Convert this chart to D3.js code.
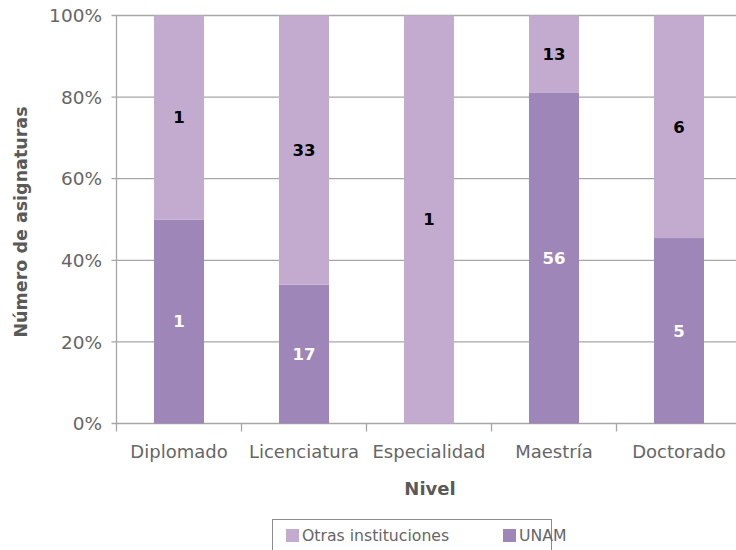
<!DOCTYPE html>
<html><head><meta charset="utf-8">
<script src="https://cdn.jsdelivr.net/npm/d3@7"></script>
<style>body{margin:0;background:#fff;} svg{display:block;font-family:"DejaVu Sans",Verdana,sans-serif;}</style>
</head><body>
<svg id="c" width="736" height="550"></svg>
<script>
const categories = ["Diplomado","Licenciatura","Especialidad","Maestría","Doctorado"];
const unam = [1,17,0,56,5];
const otras = [1,33,1,13,6];
const yTicks = [0,0.2,0.4,0.6,0.8,1];
const seriesNames = ["Otras instituciones","UNAM"];
const colors = {unam:"#9e86b8", otras:"#c3abd0"};

const svg = d3.select("#c");
const x0 = 116.5, x1 = 741.5, yTop = 15.5, yBot = 423.5;
const x = d3.scaleBand().domain(categories).range([x0,x1]).paddingInner(0.6).paddingOuter(0.3);
const y = d3.scaleLinear().domain([0,1]).range([yBot,yTop]);

svg.append("g").selectAll("line").data(yTicks).join("line")
  .attr("x1",x0-5).attr("x2",736).attr("y1",d=>y(d)).attr("y2",d=>y(d))
  .attr("stroke","#a6a6a6").attr("stroke-width",1.3);
svg.append("line").attr("x1",x0).attr("x2",x0).attr("y1",yTop).attr("y2",yBot).attr("stroke","#a6a6a6").attr("stroke-width",1.3);

const data = categories.map((c,i)=>({c, u:unam[i], o:otras[i], t:unam[i]+otras[i]}));
const g = svg.append("g");
data.forEach(d=>{
  const pu = d.u/d.t;
  if (d.u>0) g.append("rect").attr("x",x(d.c)).attr("width",x.bandwidth())
    .attr("y",y(pu)).attr("height",y(0)-y(pu)).attr("fill",colors.unam);
  g.append("rect").attr("x",x(d.c)).attr("width",x.bandwidth())
    .attr("y",y(1)).attr("height",y(pu)-y(1)).attr("fill",colors.otras);
  if (d.u>0) g.append("text").attr("x",x(d.c)+x.bandwidth()/2).attr("y",y(pu/2)).attr("dy","0.36em")
    .attr("text-anchor","middle").attr("font-size",16.5).attr("font-weight","bold").attr("fill","#fff").text(d.u);
  g.append("text").attr("x",x(d.c)+x.bandwidth()/2).attr("y",y((pu+1)/2)).attr("dy","0.36em")
    .attr("text-anchor","middle").attr("font-size",16.5).attr("font-weight","bold").attr("fill","#000").text(d.o);
});

const step = x.step();
const tickXs = categories.map((c,i)=>x0+i*step);
svg.append("g").selectAll("line").data(tickXs).join("line")
  .attr("x1",d=>d).attr("x2",d=>d).attr("y1",yBot).attr("y2",yBot+8)
  .attr("stroke","#a6a6a6").attr("stroke-width",1.3);

svg.append("g").selectAll("text").data(yTicks).join("text")
  .attr("x",102).attr("y",d=>y(d)).attr("dy","0.36em").attr("text-anchor","end")
  .attr("font-size",18.5).attr("fill","#666").text(d=>d3.format(".0%")(d));

svg.append("g").selectAll("text").data(categories).join("text")
  .attr("x",d=>x(d)+x.bandwidth()/2).attr("y",452).attr("dy","0.36em").attr("text-anchor","middle")
  .attr("font-size",18).attr("fill","#666").text(d=>d);

svg.append("text").attr("x",430).attr("y",489).attr("dy","0.36em").attr("text-anchor","middle")
  .attr("font-size",18).attr("font-weight","bold").attr("fill","#595959").text("Nivel");
svg.append("text").attr("transform","translate(21,222) rotate(-90)").attr("dy","0.36em").attr("text-anchor","middle")
  .attr("font-size",17.5).attr("font-weight","bold").attr("fill","#595959").text("Número de asignaturas");

const lg = svg.append("g");
lg.append("rect").attr("x",272.5).attr("y",519.5).attr("width",279).attr("height",40)
  .attr("fill","#fff").attr("stroke","#8c8c8c").attr("stroke-width",1);
const leg = [{n:seriesNames[0],c:colors.otras,x:286},{n:seriesNames[1],c:colors.unam,x:503}];
leg.forEach(l=>{
  lg.append("rect").attr("x",l.x).attr("y",529).attr("width",13).attr("height",13).attr("fill",l.c);
  lg.append("text").attr("x",l.x+16).attr("y",535.5).attr("dy","0.36em").attr("font-size",15.7).attr("fill","#666").text(l.n);
});
</script>
</body></html>
